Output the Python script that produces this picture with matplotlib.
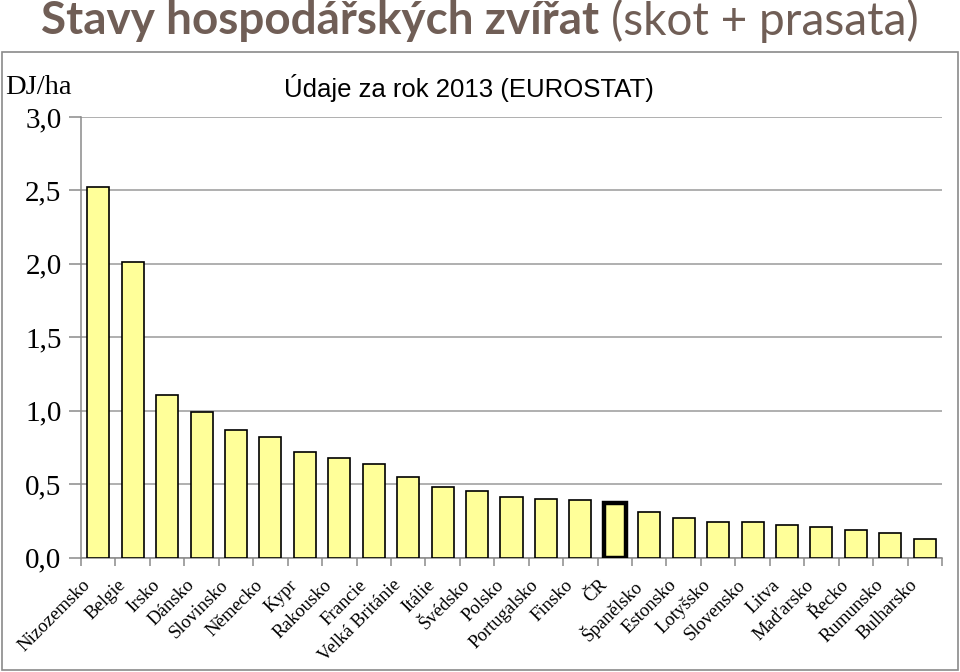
import matplotlib
matplotlib.use("Agg")
import matplotlib.pyplot as plt
from matplotlib.patches import Rectangle
from matplotlib.transforms import ScaledTranslation

countries = ["Nizozemsko", "Belgie", "Irsko", "Dánsko", "Slovinsko", "Německo", "Kypr",
             "Rakousko", "Francie", "Velká Británie", "Itálie", "Švédsko", "Polsko",
             "Portugalsko", "Finsko", "ČR", "Španělsko", "Estonsko", "Lotyšsko",
             "Slovensko", "Litva", "Maďarsko", "Řecko", "Rumunsko", "Bulharsko"]
values = [2.52, 2.01, 1.11, 0.99, 0.87, 0.82, 0.72, 0.68, 0.64, 0.55, 0.48, 0.45, 0.41,
          0.40, 0.39, 0.37, 0.31, 0.27, 0.245, 0.245, 0.22, 0.205, 0.185, 0.165, 0.125]
highlight = "ČR"
yticks = [0.0, 0.5, 1.0, 1.5, 2.0, 2.5, 3.0]
ytick_labels = ["0,0", "0,5", "1,0", "1,5", "2,0", "2,5", "3,0"]

W, H = 960, 672
fig = plt.figure(figsize=(W / 100, H / 100), dpi=100)
fig.patch.set_facecolor("white")

# outer chart frame
fig.add_artist(Rectangle((2 / W, 1 - 670 / H), 956 / W, 618 / H, transform=fig.transFigure,
                         fill=False, edgecolor="#8a8a8a", linewidth=1.2))

ax = fig.add_axes([81 / W, 1 - 557.5 / H, (942 - 81) / W, (557.5 - 117) / H])
x = list(range(len(countries)))
lw = [3.2 if c == highlight else 1.2 for c in countries]
ax.bar(x, values, width=0.64, color="#FFFF99", edgecolor="black", linewidth=lw, zorder=3)

ax.set_xlim(-0.5, len(countries) - 0.5)
ax.set_ylim(0, 3.0)
ax.set_yticks(yticks)
ax.set_yticklabels(ytick_labels, fontfamily="Liberation Serif", fontsize=21)
ax.yaxis.grid(True, color="#9a9a9a", linewidth=1.1, zorder=0)
ax.tick_params(axis="y", length=9, color="#8a8a8a", width=1.1, pad=5)

ax.set_xticks([i - 0.5 for i in range(len(countries) + 1)])
ax.set_xticklabels([])
ax.tick_params(axis="x", which="major", length=6, color="#8a8a8a", width=1.1)

offset = ScaledTranslation(-10 / 100, -25 / 100, fig.dpi_scale_trans)
for i, name in zip(x, countries):
    ax.text(i, 0, name, transform=ax.get_xaxis_transform() + offset, rotation=45,
            ha="right", va="center", rotation_mode="anchor",
            fontfamily="Liberation Serif", fontsize=13.5)

for s in ["top", "right"]:
    ax.spines[s].set_visible(False)
for s in ["left", "bottom"]:
    ax.spines[s].set_color("#8a8a8a")
    ax.spines[s].set_linewidth(1.1)

fig.text(5 / W, 1 - 88 / H, "DJ/ha", fontfamily="Liberation Serif", fontsize=20.5,
         ha="left", va="center")
fig.text(469 / W, 1 - 88 / H, "Údaje za rok 2013 (EUROSTAT)", fontfamily="Liberation Sans",
         fontsize=18.5, ha="center", va="center")

# title: bold part + regular part, centred as a whole
title_color = "#705e56"
ty = 1 - 21 / H
t1 = fig.text(0, ty, "Stavy hospodářských zvířat", fontfamily="Lato",
              fontweight="bold", fontsize=33, color=title_color, ha="left", va="center")
t2 = fig.text(0, ty, "(skot + prasata)", fontfamily="Lato",
              fontsize=33, color=title_color, ha="left", va="center")
renderer = fig.canvas.get_renderer()
w1 = t1.get_window_extent(renderer=renderer).width
w2 = t2.get_window_extent(renderer=renderer).width
gap = 12
x0 = 480 - (w1 + gap + w2) / 2
t1.set_x(x0 / W)
t2.set_x((x0 + w1 + gap) / W)

fig.savefig("out.png", dpi=100)
